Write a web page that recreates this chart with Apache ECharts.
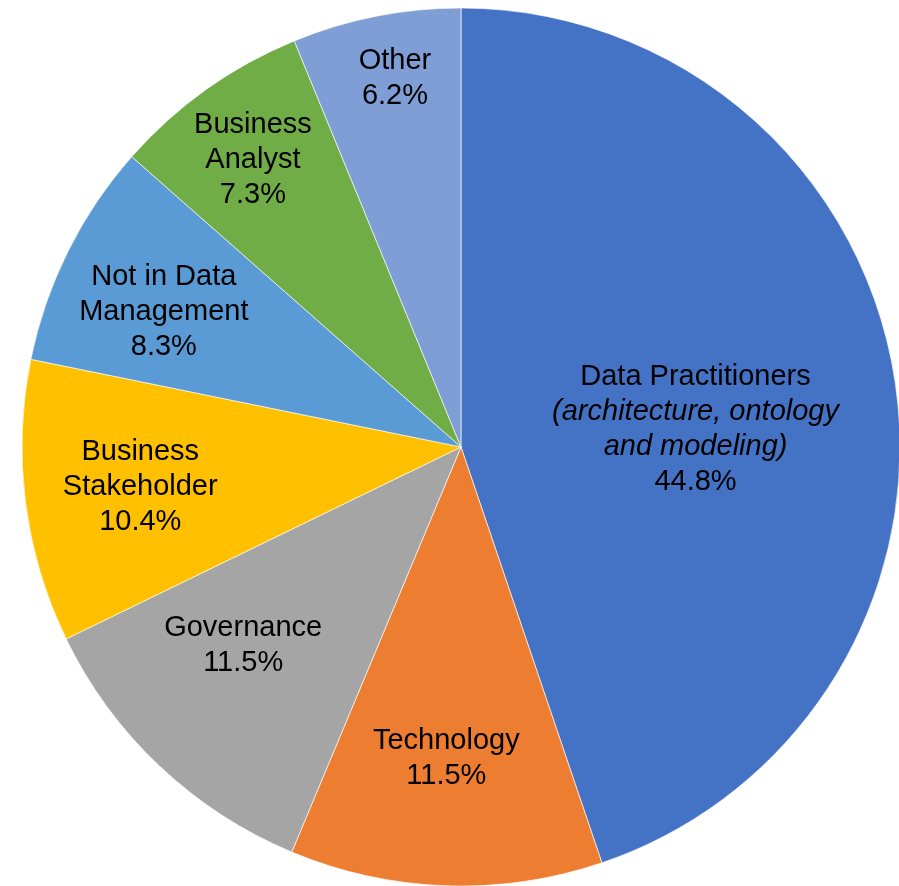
<!DOCTYPE html>
<html>
<head>
<meta charset="utf-8">
<script src="https://cdn.jsdelivr.net/npm/echarts@6/dist/echarts.min.js"></script>
<style>
html,body{margin:0;padding:0;background:#fff;}
#chart{width:899px;height:886px;}
</style>
</head>
<body>
<div id="chart"></div>
<script>
// Data
const categories = ['Data Practitioners', 'Technology', 'Governance', 'Business\nStakeholder', 'Not in Data\nManagement', 'Business\nAnalyst', 'Other'];
const subtitles = ['(architecture, ontology\nand modeling)', '', '', '', '', '', ''];
const values = [44.8, 11.5, 11.5, 10.4, 8.3, 7.3, 6.2];

// Styles
const colors = ['#4472C4', '#ED7D31', '#A5A5A5', '#FFC000', '#5B9BD5', '#70AD47', '#7F9ED5'];
const labelOffsets = [[15, 19], [-7, 89], [-65, 37], [-100, 12], [-98, -36], [-79, -106], [-23, -150]];

const chart = echarts.init(document.getElementById('chart'), null, {renderer: 'canvas'});

const seriesData = categories.map((name, i) => {
  const nameLines = name.split('\n').map(l => '{n|' + l + '}');
  const subLines = subtitles[i] ? subtitles[i].split('\n').map(l => '{i|' + l + '}') : [];
  const text = nameLines.concat(subLines).concat(['{n|' + values[i].toFixed(1) + '%}']).join('\n');
  return {
    name: name,
    value: values[i],
    itemStyle: {color: colors[i]},
    label: {offset: labelOffsets[i], formatter: text}
  };
});

chart.setOption({
  animation: false,
  series: [{
    type: 'pie',
    center: [461, 447],
    radius: [0, 439],
    startAngle: 90,
    clockwise: true,
    avoidLabelOverlap: false,
    itemStyle: {borderColor: 'rgba(255,255,255,0.8)', borderWidth: 0.8},
    label: {
      show: true,
      position: 'inside',
      align: 'center',
      verticalAlign: 'middle',
      rich: {
        n: {fontFamily: 'Liberation Sans, Arial, sans-serif', fontSize: 29, color: '#000', lineHeight: 35, align: 'center'},
        i: {fontFamily: 'Liberation Sans, Arial, sans-serif', fontSize: 29, fontStyle: 'italic', color: '#000', lineHeight: 35, align: 'center'}
      }
    },
    labelLine: {show: false},
    emphasis: {disabled: true},
    data: seriesData
  }]
});
</script>
</body>
</html>
